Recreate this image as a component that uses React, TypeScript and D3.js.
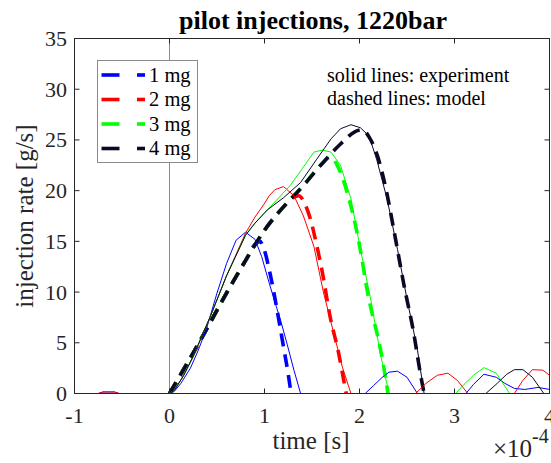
import React from "react";
import * as d3 from "d3";

const W = 551;
const H = 463;

const title = "pilot injections, 1220bar";
const xLabel = "time [s]";
const yLabel = "injection rate [g/s]";
const xTicks = [-1, 0, 1, 2, 3, 4];
const yTicks = [0, 5, 10, 15, 20, 25, 30, 35];
const legendLabels = ["1 mg", "2 mg", "3 mg", "4 mg"];
const colors = ["#0000ff", "#ff0000", "#00ff00", "#0a0a28"];
const noteLines = ["solid lines: experiment", "dashed lines: model"];

// model (dashed) curves, time in 1e-4 s, rate in g/s
const model1: [number, number][] = [
  [0, 0], [0.2, 3.2], [0.4, 6.5], [0.6, 9.9], [0.8, 13.1], [0.9, 14.7], [0.95, 15.0],
  [1.0, 14.1], [1.05, 12.2], [1.1, 9.9], [1.15, 7.3], [1.2, 4.6], [1.25, 1.9], [1.28, 0],
];
const model2: [number, number][] = [
  [0, 0], [0.2, 3.2], [0.4, 6.5], [0.6, 9.9], [0.8, 13.1], [1.0, 16.1], [1.2, 18.4],
  [1.3, 19.3], [1.36, 19.5], [1.42, 18.8], [1.48, 17.3], [1.55, 14.6], [1.61, 11.9],
  [1.69, 7.6], [1.78, 4.0], [1.84, 1.0], [1.86, 0],
];
const model3: [number, number][] = [
  [0, 0], [0.2, 3.2], [0.4, 6.5], [0.6, 9.9], [0.8, 13.1], [1.0, 16.1], [1.2, 18.4],
  [1.4, 20.4], [1.6, 22.6], [1.7, 23.3], [1.76, 22.6], [1.82, 21.3], [1.88, 19.5],
  [1.96, 16.5], [2.02, 13.6], [2.08, 10.2], [2.14, 7.6], [2.2, 5.3], [2.25, 2.9],
  [2.3, 0],
];
const model4: [number, number][] = [
  [0, 0], [0.2, 3.2], [0.4, 6.5], [0.6, 9.9], [0.8, 13.1], [1.0, 16.1], [1.2, 18.4],
  [1.4, 20.4], [1.6, 22.6], [1.8, 24.6], [1.95, 25.8], [2.03, 26.0], [2.1, 25.3],
  [2.19, 23.4], [2.28, 20.1], [2.36, 16.2], [2.47, 10.6], [2.57, 6.0], [2.64, 2.0],
  [2.68, 0],
];

// experiment (solid) curves
const exp1: [number, number][] = [
  [-1, 0], [-0.75, 0], [-0.7, 0.15], [-0.58, 0.15], [-0.53, 0], [0, 0], [0.05, 0.2],
  [0.12, 1.0], [0.22, 2.5], [0.3, 4.2], [0.39, 6.4], [0.5, 9.9], [0.6, 12.8],
  [0.7, 15.1], [0.8, 15.9], [0.9, 15.2], [0.97, 13.5], [1.04, 11.2], [1.1, 9.3],
  [1.17, 7.2], [1.24, 4.8], [1.31, 2.3], [1.38, 0], [2.06, 0], [2.15, 0.8],
  [2.24, 1.6], [2.31, 2.1], [2.4, 2.2], [2.5, 1.6], [2.61, 0], [3.12, 0], [3.2, 0.9],
  [3.31, 1.9], [3.44, 1.6], [3.53, 1.0], [3.63, 0.5], [3.74, 0.4], [3.88, 0.6], [4.0, 0.4],
];
const exp2: [number, number][] = [
  [-1, 0], [-0.75, 0], [-0.7, 0.15], [-0.58, 0.15], [-0.53, 0], [0, 0], [0.05, 0.3],
  [0.15, 1.8], [0.25, 3.6], [0.43, 7.6], [0.6, 11.6], [0.8, 15.8], [0.9, 17.4],
  [0.99, 18.6], [1.05, 19.5], [1.11, 20.1], [1.2, 20.4], [1.31, 19.5], [1.41, 17.5],
  [1.52, 14.5], [1.62, 10.0], [1.73, 5.9], [1.82, 2.6], [1.91, 0], [2.59, 0],
  [2.7, 1.0], [2.82, 1.8], [2.93, 2.0], [3.03, 1.3], [3.14, 0], [3.63, 0], [3.72, 1.3],
  [3.82, 2.35], [3.93, 2.3], [4.0, 1.8],
];
const exp3: [number, number][] = [
  [-1, 0], [0, 0], [0.05, 0.3], [0.15, 1.8], [0.25, 3.7], [0.43, 7.6], [0.6, 11.6],
  [0.8, 15.6], [0.9, 16.8], [1.06, 18.4], [1.27, 20.5], [1.4, 22.2], [1.52, 23.8],
  [1.61, 24.0], [1.7, 23.8], [1.8, 22.5], [1.91, 19.2], [2.01, 14.2], [2.12, 9.2],
  [2.22, 3.9], [2.31, 0], [3.01, 0], [3.1, 0.9], [3.2, 1.8], [3.31, 2.55], [3.44, 2.0],
  [3.58, 0], [4.0, 0],
];
const exp4: [number, number][] = [
  [-1, 0], [0, 0], [0.05, 0.3], [0.15, 1.8], [0.25, 3.7], [0.43, 7.6], [0.6, 11.6],
  [0.8, 15.6], [0.9, 16.8], [1.03, 18.1], [1.2, 19.3], [1.38, 20.8], [1.55, 23.1],
  [1.7, 25.1], [1.8, 26.1], [1.91, 26.5], [2.01, 26.2], [2.1, 25.4], [2.18, 23.1],
  [2.29, 19.2], [2.4, 14.2], [2.5, 9.3], [2.61, 4.3], [2.68, 0], [3.33, 0], [3.45, 1.0],
  [3.55, 1.9], [3.63, 2.35], [3.72, 2.35], [3.82, 1.6], [3.94, 0], [4.0, 0],
];

const models = [model1, model2, model3, model4];
const exps = [exp1, exp2, exp3, exp4];

const L = 74.5, R = 549.5, T = 38.5, B = 393.5;
const FONT = "'Liberation Serif', 'Times New Roman', serif";
const AX = "#262626";

export default function App() {
  const x = d3.scaleLinear().domain([-1, 4]).range([L, R]);
  const y = d3.scaleLinear().domain([0, 35]).range([B, T]);
  const smooth = d3.line<[number, number]>().x(d => x(d[0])).y(d => y(d[1])).curve(d3.curveMonotoneX);
  const lin = d3.line<[number, number]>().x(d => x(d[0])).y(d => y(d[1]));
  const tl = 5;

  return (
    <svg width={W} height={H} style={{ position: "absolute", left: 0, top: 0, background: "#fff" }} fontFamily={FONT}>
      <defs>
        <clipPath id="plotclip">
          <rect x={L} y={T} width={R - L} height={B - T} />
        </clipPath>
      </defs>
      <rect x={0} y={0} width={W} height={H} fill="#fff" />
      {/* zero line */}
      <line x1={x(0)} x2={x(0)} y1={T} y2={B} stroke="#8c8c8c" strokeWidth={1} />
      <g clipPath="url(#plotclip)">
        {models.map((m, i) => (
          <path key={"m" + i} d={smooth(m) || ""} fill="none" stroke={colors[i]} strokeWidth={3.6}
            strokeDasharray="13 8" />
        ))}
        {exps.map((e, i) => (
          <path key={"e" + i} d={lin(e) || ""} fill="none" stroke={colors[i]} strokeWidth={1} />
        ))}
      </g>
      {/* axes box */}
      <rect x={L} y={T} width={R - L} height={B - T} fill="none" stroke={AX} strokeWidth={1} />
      {xTicks.map(t => (
        <g key={"xt" + t}>
          <line x1={x(t)} x2={x(t)} y1={B} y2={B - tl} stroke={AX} />
          <line x1={x(t)} x2={x(t)} y1={T} y2={T + tl} stroke={AX} />
          <text x={x(t)} y={423} fontSize={22} textAnchor="middle" fill={AX}>{t}</text>
        </g>
      ))}
      {yTicks.map(t => (
        <g key={"yt" + t}>
          <line x1={L} x2={L + tl} y1={y(t)} y2={y(t)} stroke={AX} />
          <line x1={R} x2={R - tl} y1={y(t)} y2={y(t)} stroke={AX} />
          <text x={67} y={y(t) + 7.5} fontSize={22} textAnchor="end" fill={AX}>{t}</text>
        </g>
      ))}
      {/* exponent */}
      <text x={493} y={457} fontSize={25} fill={AX}>×10</text>
      <text x={532} y={443} fontSize={20} fill={AX}>-4</text>
      {/* labels */}
      <text x={313} y={29} fontSize={26} fontWeight="bold" textAnchor="middle" fill="#000">{title}</text>
      <text x={311} y={449} fontSize={25} textAnchor="middle" fill={AX}>{xLabel}</text>
      <text transform={`translate(33,${(T + B) / 2}) rotate(-90)`} fontSize={25} textAnchor="middle" fill={AX}>{yLabel}</text>
      {/* notes */}
      {noteLines.map((s, i) => (
        <text key={s} x={327} y={81.5 + i * 23.5} fontSize={20} fill="#000">{s}</text>
      ))}
      {/* legend */}
      <rect x={97.5} y={60.5} width={100} height={102} fill="#fff" stroke="#8a8a8a" strokeWidth={1} />
      {legendLabels.map((s, i) => {
        const cy = 75 + i * 24.5;
        return (
          <g key={s}>
            <line x1={101.5} x2={119.5} y1={cy} y2={cy} stroke={colors[i]} strokeWidth={3.6} />
            <line x1={137} x2={145} y1={cy} y2={cy} stroke={colors[i]} strokeWidth={3.6} />
            <text x={149} y={cy + 6.8} fontSize={20.5} fill="#000">{s}</text>
          </g>
        );
      })}
    </svg>
  );
}
